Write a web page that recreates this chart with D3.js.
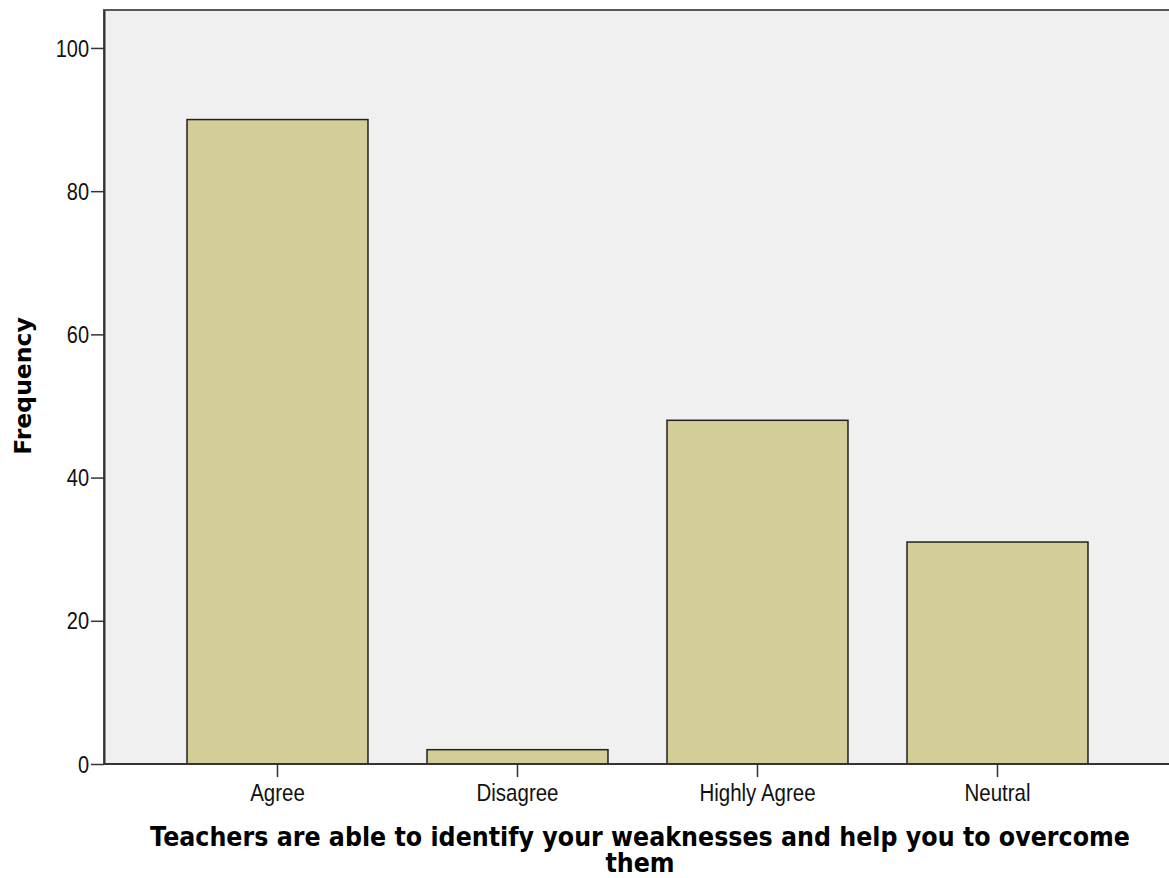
<!DOCTYPE html>
<html>
<head>
<meta charset="utf-8">
<script src="https://cdn.jsdelivr.net/npm/d3@7"></script>
<style>
  html, body { margin: 0; padding: 0; background: #fff; }
  svg { display: block; font-family: "Liberation Sans", Arial, sans-serif; }
</style>
</head>
<body>
<div id="chart"></div>
<script>
// ===== Data =====
const categories = ["Agree", "Disagree", "Highly Agree", "Neutral"];
const frequencies = [90, 2, 48, 31];
const yTicks = [0, 20, 40, 60, 80, 100];
const xTitleLines = ["Teachers are able to identify your weaknesses and help you to overcome", "them"];
const yTitle = "Frequency";

// ===== SVG config =====
const W = 1169;
const H = 878;
const P = { left: 104, top: 10, bottom: 764 }; // plot frame (right side runs off the page)
const STRETCH = 1.2; // tick text in the picture is a bit taller than wide

const svg = d3.select("#chart").append("svg")
  .attr("width", W)
  .attr("height", H);

// plot background
svg.append("rect")
  .attr("x", P.left)
  .attr("y", P.top)
  .attr("width", W - P.left + 10)
  .attr("height", P.bottom - P.top)
  .attr("fill", "#f0f0f0")
  .attr("stroke", "#5a5a5a")
  .attr("stroke-width", 2);

const x = d3.scaleBand()
  .domain(categories)
  .range([157.5, 1117.5])
  .paddingInner(0.246)
  .paddingOuter(0.123);

const y = d3.scaleLinear()
  .domain([0, 105.3])
  .range([P.bottom, P.top]);

// bars
svg.selectAll(".bar")
  .data(categories.map((c, i) => ({ c, v: frequencies[i] })))
  .enter()
  .append("rect")
  .attr("class", "bar")
  .attr("x", d => x(d.c))
  .attr("y", d => y(d.v))
  .attr("width", x.bandwidth())
  .attr("height", d => y(0) - y(d.v))
  .attr("fill", "#d3ce97")
  .attr("stroke", "#222")
  .attr("stroke-width", 1.5);

// y axis
const gy = svg.append("g")
  .attr("transform", `translate(${P.left},0)`)
  .call(d3.axisLeft(y).tickValues(yTicks).tickSize(13).tickSizeOuter(0).tickPadding(2).tickFormat(d3.format("d")));
gy.select(".domain").attr("stroke", "#333").attr("stroke-width", 2);
gy.selectAll(".tick line").attr("stroke", "#333").attr("stroke-width", 1.5);
gy.selectAll(".tick text")
  .attr("fill", "#111")
  .style("font-size", "20px")
  .attr("dy", null)
  .attr("dominant-baseline", "central")
  .attr("transform", function () {
    const tx = +d3.select(this).attr("x");
    return `translate(${tx},0) scale(1,${STRETCH}) translate(${-tx},0)`;
  });

// x axis
const gx = svg.append("g")
  .attr("transform", `translate(0,${P.bottom})`)
  .call(d3.axisBottom(x).tickSize(13).tickPadding(0).tickSizeOuter(0));
gx.select(".domain").remove();
gx.append("line")
  .attr("x1", P.left).attr("x2", W)
  .attr("y1", 0).attr("y2", 0)
  .attr("stroke", "#333").attr("stroke-width", 2);
gx.selectAll(".tick line").attr("stroke", "#333").attr("stroke-width", 1.5);
gx.selectAll(".tick text")
  .attr("fill", "#111")
  .style("font-size", "20.5px")
  .attr("dy", null)
  .attr("y", 0)
  .attr("transform", `translate(0,37) scale(1,${STRETCH})`);

// x title (one text, wrapped on two lines)
const xTitle = svg.append("text")
  .attr("text-anchor", "middle")
  .attr("transform", "translate(640,846) scale(1,1.1)")
  .style("font-family", "'DejaVu Sans', Verdana, sans-serif")
  .style("font-size", "23.8px")
  .style("font-weight", "bold")
  .attr("fill", "#000");
xTitle.selectAll("tspan")
  .data(xTitleLines)
  .enter()
  .append("tspan")
  .attr("x", 0)
  .attr("y", (d, i) => i * 23.6)
  .text(d => d);

// y title
svg.append("text")
  .attr("text-anchor", "middle")
  .attr("transform", "translate(31,386) rotate(-90)")
  .style("font-family", "'DejaVu Sans', Verdana, sans-serif")
  .style("font-size", "23.5px")
  .style("font-weight", "bold")
  .attr("fill", "#000")
  .text(yTitle);
</script>
</body>
</html>
